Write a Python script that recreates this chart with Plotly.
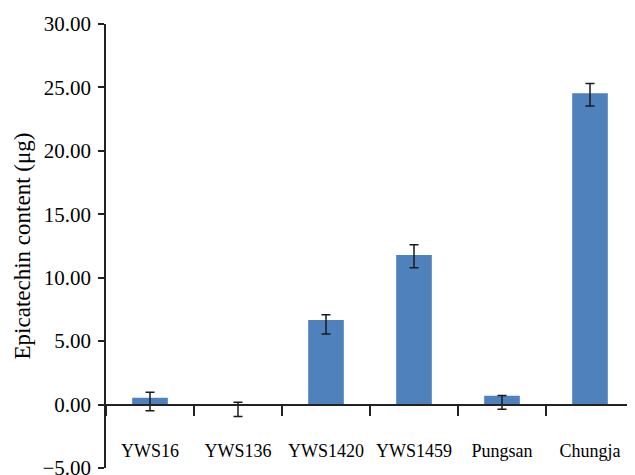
import plotly.graph_objects as go

categories = ["YWS16", "YWS136", "YWS1420", "YWS1459", "Pungsan", "Chungja"]
values = [0.53, 0.02, 6.67, 11.79, 0.69, 24.54]
err_plus = [0.45, 0.17, 0.42, 0.81, 0.03, 0.77]
err_minus = [1.02, 0.96, 1.10, 1.00, 1.05, 1.00]
y_ticks = [-5, 0, 5, 10, 15, 20, 25, 30]

FONT = "Liberation Serif"

fig = go.Figure()
fig.add_trace(go.Bar(
    x=categories,
    y=values,
    width=0.405,
    marker=dict(color="#4F81BD", line=dict(width=0)),
    error_y=dict(
        type="data",
        symmetric=False,
        array=err_plus,
        arrayminus=err_minus,
        color="#1a1a1a",
        thickness=1.5,
        width=4.5,
    ),
))

# page body has an 8px default margin; compensate
y_min, y_max = -5, 30
fig.update_layout(
    width=627,
    height=467,
    margin=dict(l=98, r=1, t=16, b=6.5, autoexpand=False),
    plot_bgcolor="white",
    paper_bgcolor="white",
    showlegend=False,
    font=dict(family=FONT, color="black"),
    xaxis=dict(
        type="category",
        anchor="free",
        position=(0 - y_min) / (y_max - y_min),
        showline=True,
        linecolor="#222222",
        linewidth=1.5,
        ticks="outside",
        tickson="boundaries",
        ticklen=11,
        tickwidth=1.5,
        tickcolor="#222222",
        showgrid=False,
        tickfont=dict(family=FONT, size=18, color="black"),
        ticklabelstandoff=30,
        range=[-0.5, 5.5],
        automargin=False,
        fixedrange=True,
    ),
    yaxis=dict(
        range=[y_min, y_max],
        tickvals=y_ticks,
        tickformat=".2f",
        showline=True,
        linecolor="#222222",
        linewidth=1.5,
        ticks="outside",
        ticklen=6,
        tickwidth=1.5,
        tickcolor="#222222",
        showgrid=False,
        zeroline=False,
        tickfont=dict(family=FONT, size=21, color="black"),
        ticklabelstandoff=3,
        ticklabeloverflow="allow",
        automargin=False,
        title=dict(text="Epicatechin content (μg)", font=dict(family=FONT, size=23, color="black"), standoff=5),
        fixedrange=True,
    ),
)

fig.write_html("out.html")
